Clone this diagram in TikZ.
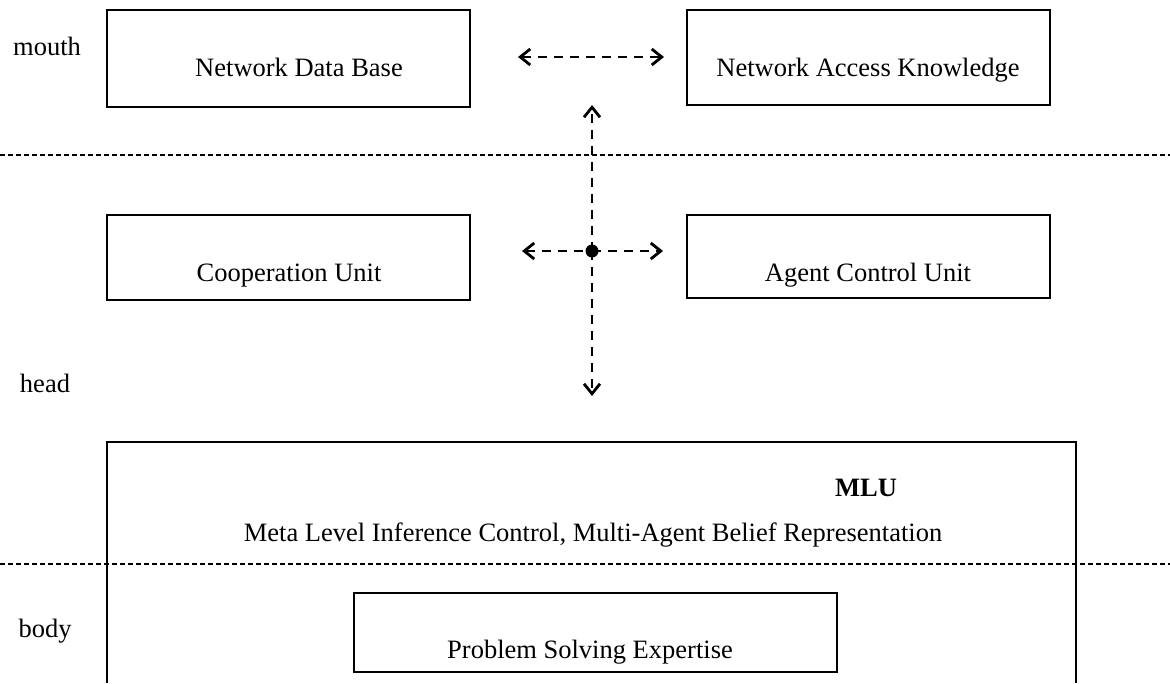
\documentclass[tikz,border=0pt]{standalone}
\usepackage{fontspec}
\setmainfont{Liberation Serif}
\usetikzlibrary{arrows.meta}

\begin{document}
\begin{tikzpicture}[x=1pt,y=-1pt,
  box/.style={draw, line width=1.7pt, inner sep=0pt},
  txt/.style={font=\fontsize{26.5}{31}\selectfont, inner sep=0pt, anchor=base},
  barb/.tip={Straight Barb[length=10pt,width=16pt,line width=2.8pt]},
  link/.style={line width=2.7pt, dash pattern=on 9pt off 7pt},
  layer/.style={line width=2pt, dash pattern=on 4.5pt off 3.5pt},
]
\useasboundingbox (0,0) rectangle (1170,683);

% layer separators
\draw[layer] (0,155) -- (1170,155);
\draw[layer] (0,564) -- (1170,564);

% layer names
\node[txt] (lmouth) at (47,55)  {mouth};
\node[txt] (lhead)  at (45,392) {head};
\node[txt] (lbody)  at (45,637) {body};

% mouth components
\node[box, minimum width=363pt, minimum height=97pt] (ndb) at (288.5,58.5) {};
\node[txt] (tndb) at (299,76) {Network Data Base};
\node[box, minimum width=363pt, minimum height=95pt] (nak) at (868.5,57.5) {};
\node[txt] (tnak) at (868,76) {Network Access Knowledge};

% head components
\node[box, minimum width=363pt, minimum height=85pt] (coop) at (288.5,257.5) {};
\node[txt] (tcoop) at (289,281) {Cooperation Unit};
\node[box, minimum width=363pt, minimum height=83pt] (acu) at (868.5,256.5) {};
\node[txt] (tacu) at (868,281) {Agent Control Unit};

% meta level unit, open towards the body
\coordinate (mluBL) at (107,683);
\coordinate (mluTL) at (107,442);
\coordinate (mluTR) at (1076,442);
\coordinate (mluBR) at (1076,683);
\draw[line width=1.7pt] (mluBL) -- (mluTL) -- (mluTR) -- (mluBR);
\node[txt, font=\fontsize{26.5}{31}\selectfont\bfseries] (tmlu) at (866,496) {MLU};
\node[txt] (tmeta) at (593,541) {Meta Level Inference Control, Multi-Agent Belief Representation};

% body component
\node[box, minimum width=483pt, minimum height=79pt] (pse) at (595.5,632.5) {};
\node[txt] (tpse) at (590,658) {Problem Solving Expertise};

% communication paths
\coordinate (hub) at (592,251);
\coordinate (mL) at (518,57);
\coordinate (mR) at (664,57);
\coordinate (hL) at (522,251);
\coordinate (hR) at (663,251);
\coordinate (vU) at (592,105);
\coordinate (vD) at (592,396);
\draw[link, barb-barb] (mL) -- (mR);
\draw[link, barb-] (hL) -- (hub);
\draw[link, -barb] (hub) -- (hR);
\draw[link, -barb] (hub) -- (vU);
\draw[link, -barb] (hub) -- (vD);
\fill (hub) circle (6.5pt);
\end{tikzpicture}
\end{document}
